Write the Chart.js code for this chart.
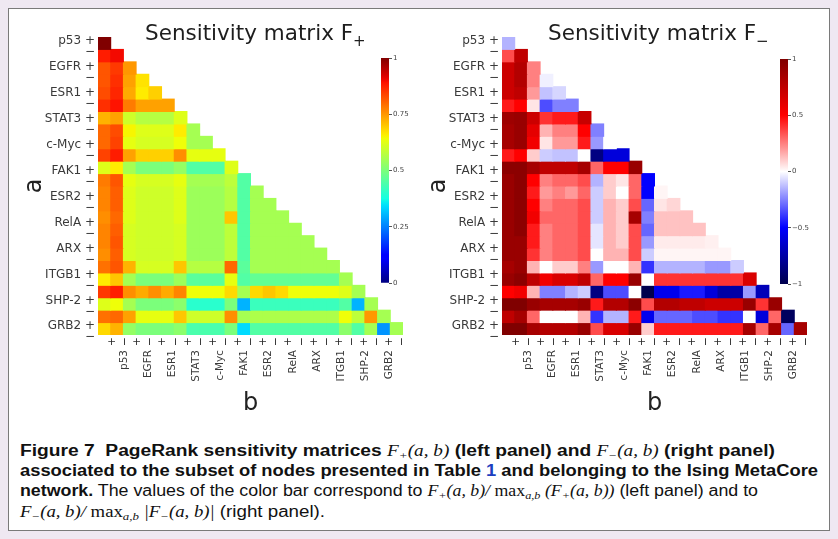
<!DOCTYPE html>
<html>
<head>
<meta charset="utf-8">
<title>PageRank sensitivity matrices</title>
<script src="https://cdn.jsdelivr.net/npm/chart.js@4.4.1/dist/chart.umd.min.js"></script>
<style>
  html, body { margin: 0; padding: 0; }
  body { width: 838px; height: 539px; background: #efe8f2; position: relative; overflow: hidden; }
  #frame { position: absolute; left: 8px; top: 8px; width: 820px; height: 521px; background: #fff; border: 1px solid #7a7a7a; }
  canvas { position: absolute; }
  .ttl { position: absolute; top: 22px; font-family: "DejaVu Sans", sans-serif; font-size: 21.5px; line-height: 1; color: #1e1e1e; white-space: nowrap; }
  .ttl sub { font-size: 15px; vertical-align: -6px; }
  .cap { position: absolute; left: 20px; font-family: "Liberation Sans Narrow", "Liberation Sans", Arial, sans-serif; font-size: 16px; line-height: 20px; color: #111; white-space: nowrap; transform-origin: 0 50%; }
  .m { font-family: "Liberation Serif", "Times New Roman", serif; font-style: italic; font-weight: normal; }
  .m .up { font-style: normal; }
  .m sub { font-size: 11px; vertical-align: -3px; }
  .blue { color: #1d3fbf; }
</style>
</head>
<body>
<div id="frame"></div>
<canvas id="hmL" width="420" height="430" style="left:0;top:0"></canvas>
<canvas id="hmR" width="420" height="430" style="left:404px;top:0"></canvas>
<canvas id="cbL" width="50" height="260" style="left:370px;top:40px"></canvas>
<canvas id="cbR" width="50" height="260" style="left:769px;top:41px"></canvas>
<div class="ttl" style="left:145px">Sensitivity matrix F<sub>+</sub></div>
<div class="ttl" style="left:548px">Sensitivity matrix F<sub>−</sub></div>

<div class="cap" data-w="755" style="top:441px"><b>Figure 7&nbsp; PageRank sensitivity matrices <span class="m">F<sub>+</sub>(a, b)</span> (left panel) and <span class="m">F<sub>−</sub>(a, b)</span> (right panel)</b></div>
<div class="cap" data-w="798" style="top:461px"><b>associated to the subset of nodes presented in Table <span class="blue">1</span> and belonging to the Ising MetaCore</b></div>
<div class="cap" data-w="738" style="top:481px"><b>network.</b> The values of the color bar correspond to <span class="m">F<sub>+</sub>(a, b)/ <span class="up">max</span><sub>a,b</sub> (F<sub>+</sub>(a, b))</span> (left panel) and to</div>
<div class="cap" data-w="305" style="top:502px"><span class="m">F<sub>−</sub>(a, b)/ <span class="up">max</span><sub>a,b</sub> |F<sub>−</sub>(a, b)|</span> (right panel).</div>

<script>
// nodes of the Ising MetaCore subset, each split into a + and a − state
const NODES = ['p53', 'EGFR', 'ESR1', 'STAT3', 'c-Myc', 'FAK1', 'ESR2', 'RelA', 'ARX', 'ITGB1', 'SHP-2', 'GRB2'];
const CELL_LABELS = NODES.flatMap(n => [n + '+', n + '−']);

// F+(a,b) / max F+, lower triangle, row a = 0..23
const F_PLUS = [
  [1.00],
  [0.88, 0.90],
  [0.82, 0.85, 0.75],
  [0.82, 0.86, 0.74, 0.67],
  [0.83, 0.87, 0.73, 0.66, 0.69],
  [0.86, 0.89, 0.78, 0.74, 0.74, 0.74],
  [0.72, 0.74, 0.60, 0.57, 0.57, 0.57, 0.62],
  [0.80, 0.83, 0.65, 0.62, 0.62, 0.62, 0.66, 0.55],
  [0.80, 0.84, 0.63, 0.61, 0.61, 0.61, 0.64, 0.55, 0.55],
  [0.84, 0.88, 0.74, 0.69, 0.69, 0.69, 0.76, 0.63, 0.63, 0.63],
  [0.62, 0.66, 0.55, 0.50, 0.50, 0.50, 0.53, 0.45, 0.45, 0.45, 0.62],
  [0.78, 0.82, 0.63, 0.61, 0.61, 0.61, 0.63, 0.55, 0.55, 0.55, 0.58, 0.45],
  [0.77, 0.81, 0.62, 0.60, 0.60, 0.60, 0.62, 0.54, 0.54, 0.54, 0.57, 0.45, 0.55],
  [0.77, 0.81, 0.62, 0.60, 0.60, 0.60, 0.62, 0.54, 0.54, 0.54, 0.57, 0.45, 0.55, 0.55],
  [0.76, 0.80, 0.62, 0.60, 0.60, 0.60, 0.62, 0.54, 0.54, 0.54, 0.70, 0.45, 0.55, 0.55, 0.55],
  [0.77, 0.81, 0.61, 0.60, 0.60, 0.60, 0.61, 0.54, 0.54, 0.54, 0.58, 0.45, 0.55, 0.55, 0.55, 0.55],
  [0.77, 0.82, 0.61, 0.60, 0.60, 0.60, 0.61, 0.54, 0.54, 0.54, 0.58, 0.45, 0.55, 0.55, 0.55, 0.55, 0.55],
  [0.76, 0.81, 0.61, 0.60, 0.60, 0.60, 0.61, 0.54, 0.54, 0.54, 0.58, 0.45, 0.55, 0.55, 0.55, 0.55, 0.55, 0.55],
  [0.79, 0.82, 0.72, 0.61, 0.61, 0.61, 0.70, 0.57, 0.57, 0.57, 0.80, 0.46, 0.55, 0.55, 0.55, 0.55, 0.55, 0.55, 0.55],
  [0.66, 0.70, 0.55, 0.50, 0.50, 0.50, 0.54, 0.46, 0.46, 0.46, 0.63, 0.45, 0.47, 0.47, 0.47, 0.47, 0.47, 0.47, 0.47, 0.55],
  [0.85, 0.88, 0.76, 0.73, 0.76, 0.73, 0.77, 0.64, 0.64, 0.64, 0.68, 0.55, 0.68, 0.70, 0.68, 0.64, 0.64, 0.64, 0.64, 0.62, 0.55],
  [0.62, 0.64, 0.55, 0.50, 0.50, 0.50, 0.52, 0.40, 0.40, 0.40, 0.50, 0.30, 0.42, 0.42, 0.42, 0.42, 0.42, 0.42, 0.42, 0.45, 0.30, 0.55],
  [0.79, 0.80, 0.74, 0.63, 0.63, 0.63, 0.70, 0.60, 0.60, 0.60, 0.76, 0.55, 0.56, 0.56, 0.56, 0.56, 0.56, 0.56, 0.56, 0.64, 0.58, 0.75, 0.55],
  [0.68, 0.72, 0.53, 0.50, 0.50, 0.50, 0.52, 0.44, 0.44, 0.44, 0.50, 0.34, 0.45, 0.45, 0.45, 0.45, 0.45, 0.45, 0.45, 0.52, 0.45, 0.55, 0.27, 0.55]
];

// F-(a,b) / max |F-|, lower triangle
const F_MINUS = [
  [-0.15],
  [0.35, 0.75],
  [0.70, 0.80, 0.25],
  [0.70, 0.80, 0.25, -0.03],
  [0.70, 0.75, 0.20, -0.12, -0.08],
  [0.45, 0.50, 0.05, -0.35, -0.25, -0.25],
  [0.88, 0.90, 0.70, 0.40, 0.45, 0.45, 0.72],
  [0.85, 0.90, 0.60, 0.15, 0.25, 0.25, 0.50, -0.25],
  [0.85, 0.90, 0.55, 0.05, 0.20, 0.20, 0.45, -0.20, 0.00],
  [0.45, 0.50, 0.10, -0.10, -0.12, -0.12, 0.00, -0.85, -0.60, -0.60],
  [0.95, 0.95, 0.85, 0.75, 0.75, 0.75, 0.85, 0.30, 0.50, 0.50, 0.90],
  [0.90, 0.95, 0.50, 0.25, 0.30, 0.30, 0.35, -0.15, 0.10, 0.05, 0.30, -0.50],
  [0.90, 0.95, 0.45, 0.20, 0.25, 0.20, 0.30, -0.10, 0.10, 0.00, 0.30, -0.50, 0.02],
  [0.90, 0.95, 0.50, 0.25, 0.30, 0.30, 0.35, -0.10, 0.15, 0.10, 0.35, -0.30, 0.05, 0.08],
  [0.90, 0.95, 0.55, 0.30, 0.30, 0.30, 0.35, -0.10, 0.15, 0.10, 0.85, -0.25, 0.12, 0.12, 0.12],
  [0.90, 0.95, 0.45, 0.25, 0.30, 0.30, 0.35, -0.05, 0.15, 0.10, 0.35, -0.30, 0.12, 0.12, 0.12, 0.12],
  [0.90, 0.90, 0.45, 0.25, 0.30, 0.30, 0.35, -0.05, 0.15, 0.10, 0.35, -0.20, 0.04, 0.04, 0.04, 0.04, 0.03],
  [0.90, 0.90, 0.40, 0.25, 0.30, 0.30, 0.35, 0.00, 0.15, 0.15, 0.35, -0.10, 0.02, 0.02, 0.02, 0.02, 0.02, 0.02],
  [0.85, 0.90, 0.15, 0.00, 0.10, 0.10, 0.25, -0.20, 0.00, 0.00, 0.15, -0.40, -0.15, -0.15, -0.15, -0.15, -0.20, -0.20, -0.10],
  [0.90, 0.95, 0.75, 0.55, 0.65, 0.65, 0.75, 0.30, 0.50, 0.50, 0.90, 0.00, 0.40, 0.40, 0.40, 0.40, 0.40, 0.40, 0.40, 0.65],
  [0.50, 0.55, 0.15, -0.25, -0.25, -0.15, -0.10, -0.85, -0.35, -0.35, 0.00, -1.00, -0.55, -0.55, -0.45, -0.45, -0.60, -0.75, -0.75, -0.20, -0.70],
  [1.00, 1.00, 0.90, 0.85, 0.85, 0.85, 0.90, 0.45, 0.80, 0.80, 0.95, 0.35, 0.80, 0.80, 0.75, 0.75, 0.70, 0.70, 0.70, 0.90, 0.40, 0.90],
  [0.75, 0.85, 0.30, 0.00, 0.00, 0.00, 0.15, -0.40, -0.15, -0.15, 0.45, -0.55, -0.30, -0.30, -0.30, -0.35, -0.35, -0.40, -0.40, 0.00, -0.60, 0.30, -0.95],
  [1.00, 1.00, 0.85, 0.80, 0.80, 0.80, 0.90, 0.35, 0.65, 0.65, 0.90, 0.10, 0.45, 0.45, 0.45, 0.45, 0.45, 0.45, 0.45, 0.85, 0.30, 0.85, -0.30, 0.85]
];

const TICKS_PLUS = [0, 0.25, 0.5, 0.75, 1];
const TICKS_MINUS = [-1, -0.5, 0, 0.5, 1];

// matplotlib colour maps as per-channel breakpoints
const JET = {
  r: [[0, 0], [0.35, 0], [0.66, 1], [0.89, 1], [1, 0.5]],
  g: [[0, 0], [0.125, 0], [0.375, 1], [0.64, 1], [0.91, 0], [1, 0]],
  b: [[0, 0.5], [0.11, 1], [0.34, 1], [0.65, 0], [1, 0]]
};
const SEISMIC = {
  r: [[0, 0], [0.25, 0], [0.5, 1], [0.75, 1], [1, 0.5]],
  g: [[0, 0], [0.25, 0], [0.5, 1], [0.75, 0], [1, 0]],
  b: [[0, 0.3], [0.25, 1], [0.5, 1], [0.75, 0], [1, 0]]
};

function seg(pts, t) {
  for (let k = 1; k < pts.length; k++) {
    if (t <= pts[k][0]) {
      const [x0, y0] = pts[k - 1], [x1, y1] = pts[k];
      return y0 + (y1 - y0) * (t - x0) / (x1 - x0);
    }
  }
  return pts[pts.length - 1][1];
}
function cmap(m, lo, hi) {
  return v => {
    const t = Math.min(1, Math.max(0, (v - lo) / (hi - lo)));
    return 'rgb(' + ['r', 'g', 'b'].map(k => Math.round(255 * seg(m[k], t))).join(',') + ')';
  };
}
const jet = cmap(JET, 0, 1);
const seismic = cmap(SEISMIC, -1, 1);

Chart.defaults.font.family = 'DejaVu Sans';
Chart.defaults.color = '#3a3a3a';
Chart.defaults.animation = false;
Chart.defaults.events = [];
Chart.defaults.plugins.legend.display = false;
Chart.defaults.plugins.tooltip.enabled = false;

const noGrid = { display: false, drawTicks: false };

function heatmap(id, rows, color) {
  const n = CELL_LABELS.length;
  new Chart(document.getElementById(id), {
    type: 'bar',
    data: {
      labels: CELL_LABELS,
      datasets: rows.map((row, i) => ({
        xAxisID: 'x', yAxisID: 'y',
        data: CELL_LABELS.map((_, j) => j < row.length ? [i, i + 1] : null),
        backgroundColor: row.map(color),
        borderWidth: 0,
        inflateAmount: 0.5,
        grouped: false,
        barPercentage: 1,
        categoryPercentage: 1
      }))
    },
    options: {
      responsive: false,
      devicePixelRatio: 1,
      layout: { padding: { left: 20, top: 37, right: 17, bottom: 12 } },
      scales: {
        x: { display: false },
        y: { display: false, min: 0, max: n, reverse: true },
        // row labels: "name +" on the + state, "−" on the − state
        yl: {
          type: 'linear', position: 'left', reverse: true, min: -0.33, max: 22.67,
          afterBuildTicks: s => { s.ticks = NODES.flatMap((_, k) => [{ value: 2 * k }, { value: 2 * k + 0.85 }]); },
          afterFit: s => { s.width = 78; },
          grid: noGrid, border: { display: false },
          ticks: { autoSkip: false, padding: 3, color: '#3a3a3a', font: { size: 12 },
                   callback: (v, i) => i % 2 ? '−' : NODES[i / 2] + ' +' },
          title: { display: true, text: 'a', color: '#222', font: { size: 24 }, padding: 0 }
        },
        xs: {
          type: 'linear', position: 'bottom', weight: 0, min: -0.61, max: 22.58,
          afterBuildTicks: s => { s.ticks = NODES.flatMap((_, k) => [{ value: 2 * k }, { value: 2 * k + 1.05 }]); },
          afterFit: s => { s.height = 13; },
          grid: noGrid, border: { display: false },
          ticks: { autoSkip: false, minRotation: 90, maxRotation: 90, padding: 2, color: '#2a2a2a', font: { size: 11 },
                   callback: (v, i) => i % 2 ? '−' : '+' }
        },
        xn: {
          type: 'linear', position: 'bottom', weight: 1, min: -0.61, max: 22.58,
          afterBuildTicks: s => { s.ticks = NODES.map((_, k) => ({ value: 2 * k + 0.5 })); },
          afterFit: s => { s.height = 70; },
          grid: noGrid, border: { display: false },
          ticks: { autoSkip: false, minRotation: 90, maxRotation: 90, padding: 2, color: '#3a3a3a', font: { size: 10.5 },
                   callback: (v, i) => NODES[i] },
          title: { display: true, text: 'b', color: '#222', font: { size: 24 }, padding: 0 }
        }
      }
    }
  });
}

function colorbar(id, ticks, color) {
  const lo = ticks[0], hi = ticks[ticks.length - 1];
  new Chart(document.getElementById(id), {
    type: 'bar',
    data: {
      labels: [''],
      datasets: [{
        data: [[lo, hi]],
        borderWidth: 0,
        barPercentage: 1,
        categoryPercentage: 1,
        backgroundColor: ctx => {
          const a = ctx.chart.chartArea;
          if (!a) return null;
          const g = ctx.chart.ctx.createLinearGradient(0, a.bottom, 0, a.top);
          for (let k = 0; k <= 64; k++) g.addColorStop(k / 64, color(lo + (hi - lo) * k / 64));
          return g;
        }
      }]
    },
    options: {
      responsive: false,
      devicePixelRatio: 1,
      layout: { padding: { left: 11, top: 18, right: 0, bottom: 17 } },
      scales: {
        x: { display: false },
        y: {
          position: 'right', min: lo, max: hi,
          afterBuildTicks: s => { s.ticks = ticks.map(v => ({ value: v })); },
          afterFit: s => { s.width = 31; },
          grid: { drawOnChartArea: false, drawTicks: true, tickLength: 3, color: '#555' },
          border: { display: false },
          ticks: { padding: 1, color: '#444', font: { size: 7 },
                   callback: v => String(v).replace('-', '−') }
        }
      }
    }
  });
}

heatmap('hmL', F_PLUS, jet);
heatmap('hmR', F_MINUS, seismic);
colorbar('cbL', TICKS_PLUS, jet);
colorbar('cbR', TICKS_MINUS, seismic);

// squeeze caption lines to the column width
document.querySelectorAll('.cap').forEach(el => {
  const w = el.getBoundingClientRect().width;
  el.style.transform = 'scaleX(' + (+el.dataset.w / w) + ')';
});
</script>
</body>
</html>
